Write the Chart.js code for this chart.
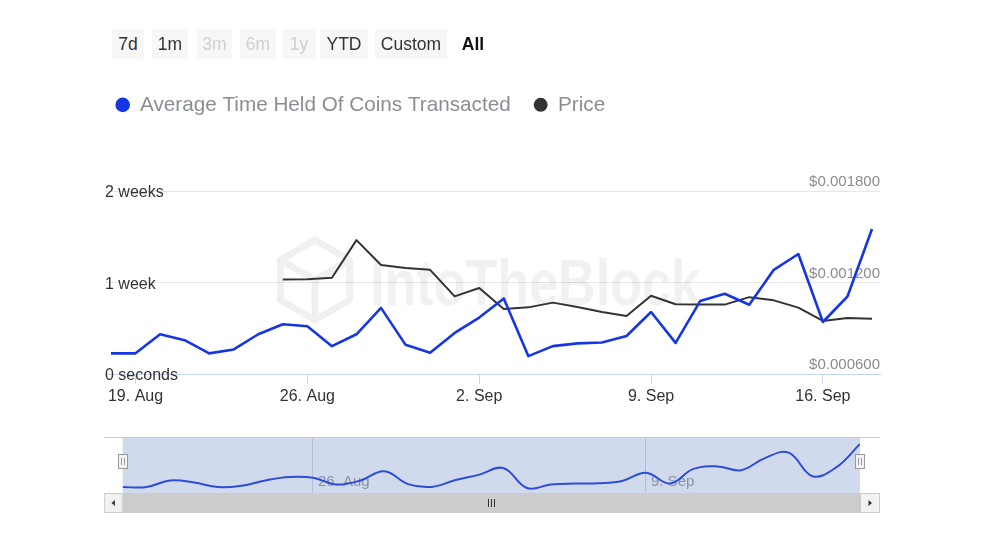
<!DOCTYPE html>
<html>
<head>
<meta charset="utf-8">
<script src="https://cdn.jsdelivr.net/npm/chart.js@4.4.1/dist/chart.umd.min.js"></script>
<style>
  body { margin: 0; background: #fff; font-family: "Liberation Sans", Arial, sans-serif; }
  #wrap { position: relative; width: 984px; height: 554px; overflow: hidden; }
  .btn { position: absolute; top: 29px; height: 30px; line-height: 31px; text-align: center;
         font-size: 17.5px; color: #333; background: #f7f7f7; z-index: 2; }
  .btn.off { color: #cfcfcf; }
  .btn.sel { background: none; font-weight: bold; color: #111; }
  #main { position: absolute; left: 0; top: 0; }
  #nav { position: absolute; left: 0; top: 430px; }
</style>
</head>
<body>
<div id="wrap">
  <span class="btn" style="left:112px;width:32px">7d</span>
  <span class="btn" style="left:152px;width:36px">1m</span>
  <span class="btn off" style="left:197px;width:35px">3m</span>
  <span class="btn off" style="left:240px;width:36px">6m</span>
  <span class="btn off" style="left:282px;width:34px">1y</span>
  <span class="btn" style="left:320px;width:48px">YTD</span>
  <span class="btn" style="left:375px;width:72px">Custom</span>
  <span class="btn sel" style="left:459px;width:28px">All</span>
  <canvas id="main" width="984" height="420"></canvas>
  <canvas id="nav" width="984" height="90"></canvas>
</div>
<script>
// one point per day, 18 Aug .. 18 Sep
const dates = [
  "18. Aug", "19. Aug", "20. Aug", "21. Aug", "22. Aug", "23. Aug", "24. Aug", "25. Aug",
  "26. Aug", "27. Aug", "28. Aug", "29. Aug", "30. Aug", "31. Aug", "1. Sep", "2. Sep",
  "3. Sep", "4. Sep", "5. Sep", "6. Sep", "7. Sep", "8. Sep", "9. Sep", "10. Sep",
  "11. Sep", "12. Sep", "13. Sep", "14. Sep", "15. Sep", "16. Sep", "17. Sep", "18. Sep"
];
// average time held, in days
const avgHeldDays = [
  1.58, 1.58, 3.04, 2.59, 1.58, 1.88, 3.04, 3.80,
  3.65, 2.13, 3.04, 5.06, 2.23, 1.62, 3.14, 4.32,
  5.78, 1.37, 2.13, 2.34, 2.41, 2.91, 4.74, 2.38,
  5.58, 6.14, 5.30, 7.97, 9.18, 3.98, 5.93, 11.09
];
// price in $, starts on 25 Aug
const price = [
  null, null, null, null, null, null, null, 0.001220,
  0.001222, 0.001231, 0.001478, 0.001315, 0.001295, 0.001283, 0.001109, 0.001164,
  0.001026, 0.001037, 0.001068, 0.001039, 0.001006, 0.000980, 0.001113, 0.001057,
  0.001055, 0.001055, 0.001104, 0.001083, 0.001035, 0.000948, 0.000967, 0.000963
];
const mainTicks = [1, 8, 15, 22, 29];
const navTicks = [8, 22];
const heldTickLabels = ["0 seconds", "1 week", "2 weeks"];

Chart.defaults.font.family = "'Liberation Sans', Arial, sans-serif";

let heldPoints = avgHeldDays.map((v, i) => ({ x: i, y: v }));
let pricePoints = price.map((v, i) => ({ x: i, y: v }));

// make room between legend and plot
const legendSpace = {
  id: "legendSpace",
  beforeInit(chart) {
    const fit = chart.legend.fit;
    chart.legend.fit = function () {
      fit.call(this);
      this.height = 119.5;
    };
  }
};

// faint logo behind the lines
const watermark = {
  id: "watermark",
  beforeDatasetsDraw(chart) {
    const ctx = chart.ctx;
    ctx.save();
    ctx.strokeStyle = "rgba(0,0,0,0.06)";
    ctx.lineWidth = 7;
    ctx.lineJoin = "round";
    let cx = 315, cy = 280, r = 40;
    ctx.beginPath();
    for (let k = 0; k < 6; k++) {
      let a = (-90 + 60 * k) * Math.PI / 180;
      let px = cx + r * Math.cos(a), py = cy + r * Math.sin(a);
      if (k == 0) ctx.moveTo(px, py); else ctx.lineTo(px, py);
    }
    ctx.closePath();
    ctx.moveTo(cx, cy);
    ctx.lineTo(cx, cy + r);
    ctx.moveTo(cx, cy);
    ctx.lineTo(cx + r * Math.cos(-Math.PI / 6), cy + r * Math.sin(-Math.PI / 6));
    ctx.moveTo(cx, cy);
    ctx.lineTo(cx - r * Math.cos(-Math.PI / 6), cy + r * Math.sin(-Math.PI / 6));
    ctx.stroke();

    ctx.fillStyle = "rgba(0,0,0,0.055)";
    ctx.font = "bold 64px 'Liberation Sans', Arial, sans-serif";
    ctx.textBaseline = "alphabetic";
    let w = ctx.measureText("IntoTheBlock").width;
    ctx.translate(370, 305);
    ctx.scale(330 / w, 1);
    ctx.fillText("IntoTheBlock", 0, 0);
    ctx.restore();
  }
};

new Chart(document.getElementById("main"), {
  type: "line",
  data: {
    datasets: [
      {
        label: "Average Time Held Of Coins Transacted",
        data: heldPoints,
        yAxisID: "yHeld",
        borderColor: "#1536e2",
        backgroundColor: "#1536e2",
        borderWidth: 2.6,
        borderJoinStyle: "round",
        pointRadius: 0,
        pointStyle: "circle"
      },
      {
        label: "Price",
        data: pricePoints,
        yAxisID: "yPrice",
        borderColor: "#333333",
        backgroundColor: "#333333",
        borderWidth: 2,
        borderJoinStyle: "round",
        pointRadius: 0,
        pointStyle: "circle"
      }
    ]
  },
  options: {
    responsive: false,
    animation: false,
    devicePixelRatio: 1,
    layout: { padding: { left: 92.7, right: 104, top: 71.5, bottom: 16 } },
    plugins: {
      legend: {
        position: "top",
        align: "start",
        labels: {
          usePointStyle: true,
          boxWidth: 14,
          boxHeight: 8.5,
          padding: 23,
          color: "#8a8e94",
          font: { size: 20.7 }
        }
      },
      tooltip: { enabled: false }
    },
    scales: {
      x: {
        type: "linear",
        min: -0.244,
        max: 31.326,
        afterBuildTicks: (s) => { s.ticks = mainTicks.map((v) => ({ value: v })); },
        afterFit: (s) => { s.height = 30; },
        ticks: {
          callback: (v) => dates[v],
          color: "#333",
          font: { size: 16 },
          padding: 3,
          maxRotation: 0,
          autoSkip: false
        },
        grid: { drawOnChartArea: false, color: "#ccd6eb", tickLength: 10 },
        border: { color: "#ccd6eb" }
      },
      yHeld: {
        position: "left",
        min: 0,
        max: 14,
        afterFit: (s) => { s.width = 12.3; },
        ticks: {
          stepSize: 7,
          mirror: true,
          padding: 0,
          labelOffset: 2,
          color: "#333",
          font: { size: 16 },
          callback: (v) => heldTickLabels[v / 7]
        },
        grid: { color: "#e6e6e6", drawTicks: false },
        border: { display: false }
      },
      yPrice: {
        position: "right",
        min: 0.0006,
        max: 0.0018,
        afterFit: (s) => { s.width = 0; },
        ticks: {
          stepSize: 0.0006,
          mirror: true,
          padding: 0,
          labelOffset: -9,
          color: "#8c8c8c",
          font: { size: 15 },
          callback: (v) => "$" + v.toFixed(6)
        },
        grid: { display: false },
        border: { display: false }
      }
    }
  },
  plugins: [legendSpace, watermark]
});

// navigator mask, handles and scrollbar
const navFrame = {
  id: "navFrame",
  afterDatasetsDraw(chart) {
    const { ctx, chartArea: a } = chart;
    ctx.save();
    ctx.fillStyle = "rgba(102,133,194,0.3)";
    ctx.fillRect(a.left, a.top, a.right - a.left, a.bottom - a.top);
    ctx.restore();
  },
  afterDraw(chart) {
    const { ctx, chartArea: a } = chart;
    let l = a.left - 18.5, r = a.right + 20;
    let sy = a.bottom, sh = 20;
    ctx.save();
    ctx.strokeStyle = "#cccccc";
    ctx.lineWidth = 1;
    ctx.beginPath();
    ctx.moveTo(l, a.top - 0.5);
    ctx.lineTo(r, a.top - 0.5);
    ctx.stroke();

    // scrollbar track + thumb
    ctx.fillStyle = "#f2f2f2";
    ctx.fillRect(l, sy, r - l, sh);
    ctx.fillStyle = "#cccccc";
    ctx.fillRect(a.left, sy, a.right - a.left, sh);
    // arrow buttons
    ctx.fillStyle = "#f2f2f2";
    ctx.strokeStyle = "#cccccc";
    ctx.fillRect(l, sy, a.left - l, sh);
    ctx.strokeRect(l + 0.5, sy + 0.5, a.left - l - 1, sh - 1);
    ctx.fillRect(a.right, sy, r - a.right, sh);
    ctx.strokeRect(a.right + 0.5, sy + 0.5, r - a.right - 1, sh - 1);
    ctx.fillStyle = "#333";
    let mx = (l + a.left) / 2, my = sy + sh / 2;
    ctx.beginPath();
    ctx.moveTo(mx - 2, my); ctx.lineTo(mx + 1.5, my - 3); ctx.lineTo(mx + 1.5, my + 3);
    ctx.fill();
    mx = (a.right + r) / 2;
    ctx.beginPath();
    ctx.moveTo(mx + 2, my); ctx.lineTo(mx - 1.5, my - 3); ctx.lineTo(mx - 1.5, my + 3);
    ctx.fill();
    // grip
    ctx.strokeStyle = "#333";
    let gx = Math.round((a.left + a.right) / 2);
    for (let k = -3; k <= 3; k += 3) {
      ctx.beginPath();
      ctx.moveTo(gx + k + 0.5, my - 4);
      ctx.lineTo(gx + k + 0.5, my + 4);
      ctx.stroke();
    }

    // handles
    [a.left, a.right].forEach((hx) => {
      hx = Math.round(hx);
      let hy = a.top + 16;
      ctx.fillStyle = "#f2f2f2";
      ctx.strokeStyle = "#999";
      ctx.fillRect(hx - 5, hy, 10, 15);
      ctx.strokeRect(hx - 4.5, hy + 0.5, 9, 14);
      ctx.beginPath();
      ctx.moveTo(hx - 1.5, hy + 4); ctx.lineTo(hx - 1.5, hy + 11);
      ctx.moveTo(hx + 1.5, hy + 4); ctx.lineTo(hx + 1.5, hy + 11);
      ctx.stroke();
    });
    ctx.restore();
  }
};

new Chart(document.getElementById("nav"), {
  type: "line",
  data: {
    datasets: [
      {
        data: heldPoints,
        borderColor: "#1536e2",
        borderWidth: 2,
        pointRadius: 0,
        tension: 0.4
      }
    ]
  },
  options: {
    responsive: false,
    animation: false,
    devicePixelRatio: 1,
    layout: { padding: { left: 122.7, right: 124, top: 8, bottom: 27 } },
    plugins: { legend: { display: false }, tooltip: { enabled: false } },
    scales: {
      x: {
        type: "linear",
        min: 0,
        max: 31,
        afterBuildTicks: (s) => { s.ticks = navTicks.map((v) => ({ value: v })); },
        afterFit: (s) => { s.height = 0; },
        ticks: {
          callback: (v) => dates[v],
          mirror: true,
          align: "start",
          labelOffset: 5,
          padding: 2,
          color: "#999",
          font: { size: 15 },
          maxRotation: 0,
          autoSkip: false
        },
        grid: { color: "#d9d9d9", drawTicks: false },
        border: { display: false }
      },
      y: { display: false, min: 0.27, max: 12.4 }
    }
  },
  plugins: [navFrame]
});
</script>
</body>
</html>
